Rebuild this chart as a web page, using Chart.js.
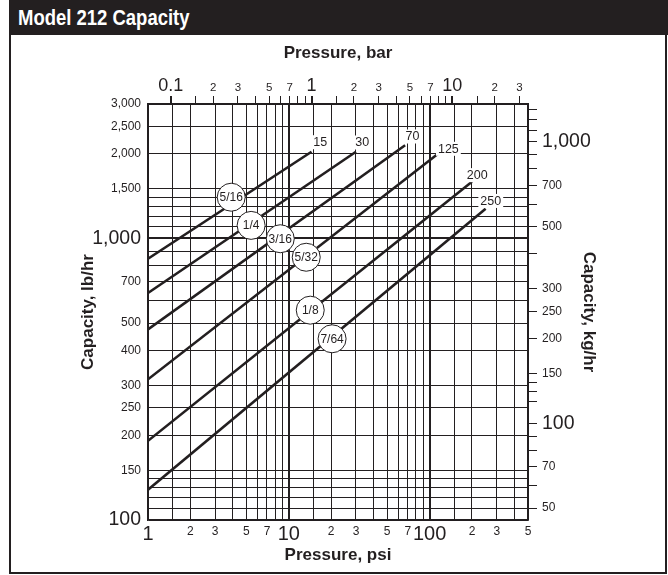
<!DOCTYPE html>
<html>
<head>
<meta charset="utf-8">
<script src="https://cdn.jsdelivr.net/npm/chart.js@4.4.1/dist/chart.umd.min.js"></script>
<style>
  body { margin: 0; background: #fff; }
  #wrap { position: relative; width: 668px; height: 575px; }
  canvas { position: absolute; left: 0; top: 0; }
  #frame {
    position: absolute; left: 9px; top: 0; width: 658px; height: 574px;
    box-sizing: border-box; border: 2.5px solid #231f20; pointer-events: none;
  }
  #head {
    position: absolute; left: 9px; top: 0; width: 659px; height: 35px;
    background: #231f20; color: #fff;
    font: bold 22px "Liberation Sans", Arial, sans-serif;
  }
  #head span {
    position: absolute; left: 9px; top: 5px;
    transform: scaleX(0.84); transform-origin: left center; white-space: nowrap;
  }
</style>
</head>
<body>
<div id="wrap">
  <canvas id="chart" width="668" height="575"></canvas>
  <div id="frame"></div>
  <div id="head"><span>Model 212 Capacity</span></div>
</div>
<script>
const FONT = '"Liberation Sans", Arial, sans-serif';
const INK = "#231f20";
const PSI_PER_BAR = 14.5038;
const LB_PER_KG = 2.20462;

// psi axis (bottom)
const psiGrid = [1, 1.5, 2, 3, 4, 5, 6, 7, 8, 9, 10, 15, 20, 30, 40, 50, 60, 70, 80, 90, 100, 150, 200, 300, 400, 500];
const psiLabelValues = [1, 2, 3, 5, 7, 10, 20, 30, 50, 70, 100, 200, 300, 500];
const psiLabelText = ["1", "2", "3", "5", "7", "10", "2", "3", "5", "7", "100", "2", "3", "5"];
const psiBig = [1, 10, 100];

// bar axis (top)
const barTicks = [0.1, 0.15, 0.2, 0.3, 0.4, 0.5, 0.6, 0.7, 0.8, 0.9, 1, 1.5, 2, 3, 4, 5, 6, 7, 8, 9, 10, 15, 20, 30];
const barLabelValues = [0.1, 0.2, 0.3, 0.5, 0.7, 1, 2, 3, 5, 7, 10, 20, 30];
const barLabelText = ["0.1", "2", "3", "5", "7", "1", "2", "3", "5", "7", "10", "2", "3"];
const barBig = [0.1, 1, 10];

// lb/hr axis (left)
const lbGrid = [100, 110, 120, 130, 140, 150, 200, 250, 300, 400, 500, 600, 700, 800, 900, 1000, 1100, 1200, 1300, 1400, 1500, 2000, 2500, 3000];
const lbLabelValues = [100, 150, 200, 250, 300, 400, 500, 700, 1000, 1500, 2000, 2500, 3000];
const lbLabelText = ["100", "150", "200", "250", "300", "400", "500", "700", "1,000", "1,500", "2,000", "2,500", "3,000"];
const lbBig = [100, 1000];

// kg/hr axis (right)
const kgTicks = [50, 60, 70, 80, 90, 100, 120, 130, 140, 150, 200, 250, 300, 400, 500, 600, 700, 800, 900, 1000, 1100, 1200, 1300];
const kgLabelValues = [50, 70, 100, 150, 200, 250, 300, 500, 700, 1000];
const kgLabelText = ["50", "70", "100", "150", "200", "250", "300", "500", "700", "1,000"];
const kgBig = [100, 1000];

// orifice lines: start at 1 psi, end near max pressure
const orifices = ["5/16", "1/4", "3/16", "5/32", "1/8", "7/64"];
const maxPsiText = ["15", "30", "70", "125", "200", "250"];
const startPsi = [1, 1, 1, 1, 1, 1];
const startLb = [847, 640, 475, 316, 191, 128];
const endPsi = [14.5, 30, 67, 123, 200, 250];
const endLb = [2030, 2030, 2140, 2050, 1590, 1275];
const circlePsi = [3.9, 5.4, 8.7, 13.3, 14.2, 20.3];
const circleLb = [1400, 1112, 997, 857, 556, 440];
const endLabelPsi = [16.7, 33.2, 75.7, 136, 218, 272];
const endLabelLb = [2195, 2190, 2300, 2080, 1677, 1358];

function labelFrom(values, texts) {
  return v => {
    const i = values.indexOf(v);
    return i < 0 ? "" : texts[i];
  };
}

function tickFont(big, bigSize, smallSize) {
  return ctx => {
    const v = ctx.tick ? ctx.tick.value : null;
    return big.includes(v)
      ? { family: FONT, size: bigSize, lineHeight: 1 }
      : { family: FONT, size: smallSize, lineHeight: 1.2 };
  };
}

function fixTicks(values) {
  return scale => { scale.ticks = values.map(v => ({ value: v })); };
}

const titleFont = { family: FONT, size: 17, weight: "bold" };

const labelsPlugin = {
  id: "orificeLabels",
  afterDatasetsDraw(chart) {
    const { ctx, scales } = chart;
    ctx.save();
    ctx.textAlign = "center";
    ctx.textBaseline = "middle";

    // max pressure labels at line ends
    ctx.font = `12.5px ${FONT}`;
    maxPsiText.forEach((t, i) => {
      const x = scales.x.getPixelForValue(endLabelPsi[i]);
      const y = scales.y.getPixelForValue(endLabelLb[i]);
      const w = ctx.measureText(t).width;
      ctx.fillStyle = "#fff";
      ctx.fillRect(x - w / 2 - 2, y - 7, w + 4, 14);
      ctx.fillStyle = INK;
      ctx.fillText(t, x, y + 0.5);
    });

    // orifice size circles
    ctx.font = `12px ${FONT}`;
    orifices.forEach((t, i) => {
      const x = scales.x.getPixelForValue(circlePsi[i]);
      const y = scales.y.getPixelForValue(circleLb[i]);
      ctx.beginPath();
      ctx.arc(x, y, 14, 0, Math.PI * 2);
      ctx.fillStyle = "#fff";
      ctx.fill();
      ctx.lineWidth = 1;
      ctx.strokeStyle = INK;
      ctx.stroke();
      ctx.fillStyle = INK;
      ctx.fillText(t, x, y + 0.5);
    });
    ctx.restore();
  },
};

new Chart(document.getElementById("chart"), {
  type: "scatter",
  data: {
    datasets: orifices.map((name, i) => ({
      label: name,
      data: [
        { x: startPsi[i], y: startLb[i] },
        { x: endPsi[i], y: endLb[i] },
      ],
      showLine: true,
      borderColor: INK,
      borderWidth: 2.6,
      pointRadius: 0,
      xAxisID: "x",
      yAxisID: "y",
    })),
  },
  options: {
    responsive: false,
    animation: false,
    layout: { padding: 0 },
    plugins: { legend: { display: false }, tooltip: { enabled: false } },
    scales: {
      x: {
        type: "logarithmic",
        position: "bottom",
        min: 1,
        max: 500,
        afterBuildTicks: fixTicks(psiGrid),
        afterFit: s => { s.height = 55; },
        grid: {
          color: INK,
          lineWidth: ctx => (ctx.tick && (ctx.tick.value === 10 || ctx.tick.value === 100) ? 2 : 1),
          drawTicks: false,
        },
        border: { color: INK, width: 1.5 },
        ticks: {
          autoSkip: false, maxRotation: 0, minRotation: 0, padding: 4,
          color: INK,
          font: tickFont(psiBig, 20, 12),
          callback: labelFrom(psiLabelValues, psiLabelText),
        },
        title: { display: true, text: "Pressure, psi", color: INK, font: titleFont, padding: { top: 0, bottom: 9 } },
      },
      x2: {
        type: "logarithmic",
        position: "top",
        min: 1 / PSI_PER_BAR,
        max: 500 / PSI_PER_BAR,
        afterBuildTicks: fixTicks(barTicks),
        afterFit: s => { s.height = 104; },
        grid: {
          color: INK,
          drawOnChartArea: false,
          tickLength: 8,
          lineWidth: ctx => (ctx.tick && barBig.includes(ctx.tick.value) ? 2 : 1),
        },
        border: { color: INK, width: 1.5 },
        ticks: {
          autoSkip: false, maxRotation: 0, minRotation: 0, padding: 1,
          color: INK,
          font: tickFont(barBig, 18, 11.5),
          callback: labelFrom(barLabelValues, barLabelText),
        },
        title: { display: true, text: "Pressure, bar", color: INK, font: titleFont, padding: { top: 43, bottom: 0 } },
      },
      y: {
        type: "logarithmic",
        position: "left",
        min: 100,
        max: 3000,
        afterBuildTicks: fixTicks(lbGrid),
        afterFit: s => { s.width = 148; },
        grid: {
          color: INK,
          lineWidth: ctx => (ctx.tick && ctx.tick.value === 1000 ? 2 : 1),
          drawTicks: false,
        },
        border: { color: INK, width: 1.5 },
        ticks: {
          autoSkip: false,
          padding: 7,
          color: INK,
          font: tickFont(lbBig, 19.5, 12),
          callback: labelFrom(lbLabelValues, lbLabelText),
        },
        title: { display: true, text: "Capacity, lb/hr", color: INK, font: titleFont, padding: { top: 78, bottom: 0 } },
      },
      y2: {
        type: "logarithmic",
        position: "right",
        min: 100 / LB_PER_KG,
        max: 3000 / LB_PER_KG,
        afterBuildTicks: fixTicks(kgTicks),
        afterFit: s => { s.width = 140; },
        grid: { color: INK, drawOnChartArea: false, tickLength: 9, lineWidth: 1 },
        border: { color: INK, width: 1.5 },
        ticks: {
          autoSkip: false,
          padding: 5,
          color: INK,
          font: tickFont(kgBig, 19.5, 12),
          callback: labelFrom(kgLabelValues, kgLabelText),
        },
        title: { display: true, text: "Capacity, kg/hr", color: INK, font: titleFont, padding: { top: 69, bottom: 0 } },
      },
    },
  },
  plugins: [labelsPlugin],
});
</script>
</body>
</html>
